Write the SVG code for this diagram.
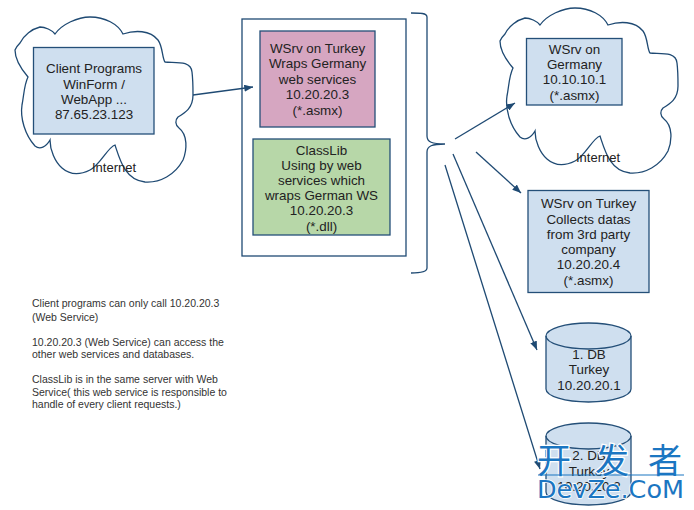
<svg xmlns="http://www.w3.org/2000/svg" width="694" height="510" viewBox="0 0 694 510">
<style>
.box{stroke:#244f78;stroke-width:1.3}
.blue{fill:#cfdfef}
.line{fill:none;stroke:#1f4a73;stroke-width:1.3}
.cloud{fill:#fff;stroke:#1f4a73;stroke-width:1.3}
text{font-family:"Liberation Sans",Arial,sans-serif;fill:#222;}
.t{font-size:13.4px;text-anchor:middle}
.n{font-size:10.5px;fill:#333}
.w{fill:#1b76c2;font-family:"Noto Sans CJK SC","Liberation Sans",sans-serif;font-size:34px;stroke:#fff;stroke-width:2.5px;paint-order:stroke}
</style>
<defs>
<marker id="a" viewBox="0 0 10 8" refX="10" refY="4" markerWidth="9" markerHeight="7" markerUnits="userSpaceOnUse" orient="auto"><path d="M0 0L10 4L0 8Z" fill="#1f4a73"/></marker>
<path id="cl" d="M20 43C24 35 32 29 40 27C45 27 52 30 55 34C62 24 78 17 90 17C105 17 118 24 123 34C135 30 150 30 158 40C163 47 162 58 165 62C175 63 191 60 192 72C193 80 193 88 193 95C193 108 185 113 178 117C175 120 175 125 179 128C188 135 187 150 183 160C175 175 160 183 145 182C125 180 120 160 115 145C108 147 100 165 90 170C80 175 70 175 62 168C55 162 50 150 50 140C46 147 40 150 35 146C25 135 20 118 22 105C24 95 24 85 28 77C22 70 15 60 15 50C16 47 18 45 20 43Z"/>
</defs>
<g id="cloud-client">
<use href="#cl" class="cloud"/>
<rect class="box blue" x="33.5" y="47.5" width="120.5" height="86.5"/>
<text class="t" x="94" y="73">Client Programs</text>
<text class="t" x="94" y="89">WinForm /</text>
<text class="t" x="94" y="104">WebApp ...</text>
<text class="t" x="94" y="119">87.65.23.123</text>
<text x="114" y="172" font-size="13" text-anchor="middle">Internet</text>
</g>
<g id="cloud-germany">
<use href="#cl" class="cloud" x="485" y="-9"/>
<rect class="box blue" x="526.5" y="38.5" width="95.5" height="66.5"/>
<text class="t" x="574.5" y="54">WSrv on</text>
<text class="t" x="574.5" y="69">Germany</text>
<text class="t" x="574.5" y="84">10.10.10.1</text>
<text class="t" x="574.5" y="100">(*.asmx)</text>
<text x="598" y="162" font-size="13" text-anchor="middle">Internet</text>
</g>
<g id="server">
<rect x="242" y="19" width="164" height="237" fill="#fff" stroke="#1f4a73" stroke-width="1.3"/>
</g>
<g id="wsrv-turkey">
<rect class="box" x="260" y="31" width="115" height="96" fill="#d6a6c1"/>
<text class="t" x="317.5" y="53">WSrv on Turkey</text>
<text class="t" x="317.5" y="68">Wraps Germany</text>
<text class="t" x="317.5" y="84">web services</text>
<text class="t" x="317.5" y="99">10.20.20.3</text>
<text class="t" x="317.5" y="115">(*.asmx)</text>
</g>
<g id="classlib">
<rect class="box" x="253" y="139" width="137" height="96" fill="#b7d7a8"/>
<text class="t" x="321.5" y="155">ClassLib</text>
<text class="t" x="321.5" y="170">Using by web</text>
<text class="t" x="321.5" y="185">services which</text>
<text class="t" x="321.5" y="200">wraps German WS</text>
<text class="t" x="321.5" y="215">10.20.20.3</text>
<text class="t" x="321.5" y="231">(*.dll)</text>
</g>
<g id="wsrv-3rd">
<rect class="box blue" x="528" y="190.5" width="121" height="102"/>
<text class="t" x="588.5" y="208">WSrv on Turkey</text>
<text class="t" x="588.5" y="224">Collects datas</text>
<text class="t" x="588.5" y="239">from 3rd party</text>
<text class="t" x="588.5" y="254">company</text>
<text class="t" x="588.5" y="269">10.20.20.4</text>
<text class="t" x="588.5" y="285">(*.asmx)</text>
</g>
<g id="db1">
<path class="box blue" d="M546 336A42.5 13 0 0 1 631 336L631 389A42.5 13 0 0 1 546 389Z"/>
<path class="box" fill="none" d="M546 336A42.5 13 0 0 0 631 336"/>
<text class="t" x="589" y="359">1. DB</text>
<text class="t" x="589" y="374">Turkey</text>
<text class="t" x="589" y="390">10.20.20.1</text>
</g>
<g id="db2">
<path class="box blue" d="M546 436A42.5 13 0 0 1 631 436L631 492A42.5 13 0 0 1 546 492Z"/>
<path class="box" fill="none" d="M546 436A42.5 13 0 0 0 631 436"/>
<text class="t" x="589" y="460">2. DB</text>
<text class="t" x="589" y="476">Turkey</text>
<text class="t" x="589" y="491">10.20.20.2</text>
</g>
<g id="connectors">
<path class="line" d="M193 95L253 87" marker-end="url(#a)"/>
<path class="line" d="M455 139L515 103" marker-end="url(#a)"/>
<path class="line" d="M476 152L521 193" marker-end="url(#a)"/>
<path class="line" d="M453 154L537 350" marker-end="url(#a)"/>
<path class="line" d="M445 165L540 469" marker-end="url(#a)"/>
<path class="line" d="M411 13C420 13 427 13 427 17L427 136C427 142 432 144 445 144C432 144 427 146 427 152L427 268C427 272 420 273 411 273"/>
</g>
<g id="notes">
<text class="n" x="32" y="307">Client programs can only call 10.20.20.3</text>
<text class="n" x="32" y="321">(Web Service)</text>
<text class="n" x="32" y="346">10.20.20.3 (Web Service) can access the</text>
<text class="n" x="32" y="358">other web services and databases.</text>
<text class="n" x="32" y="383">ClassLib is in the same server with Web</text>
<text class="n" x="32" y="396">Service( this web service is responsible to</text>
<text class="n" x="32" y="408">handle of every client requests.)</text>
</g>
<g id="watermark">
<text class="w" x="537" y="473">开</text>
<text class="w" x="595" y="473">发</text>
<text class="w" x="648" y="473">者</text>
<rect x="538" y="474.5" width="146" height="1" fill="#1b76c2"/>
<text class="w" x="537" y="498" style="font-family:'DejaVu Sans',sans-serif;font-size:25px;stroke-width:1.5px" textLength="147" lengthAdjust="spacingAndGlyphs">DevZe.CoM</text>
</g>
</svg>
